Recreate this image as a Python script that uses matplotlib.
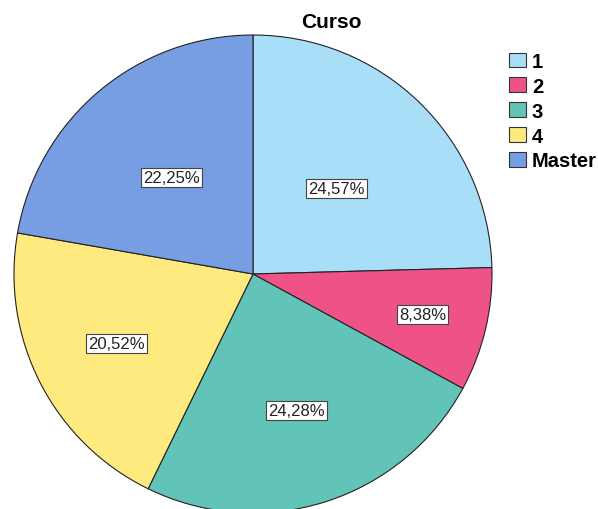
import matplotlib.pyplot as plt
import numpy as np
from matplotlib.patches import Patch

plt.rcParams['font.family'] = ['Liberation Sans', 'DejaVu Sans']

# data
categories = ['1', '2', '3', '4', 'Master']
percentages = [24.57, 8.38, 24.28, 20.52, 22.25]
colors = ['#A9DEF9', '#EF5286', '#62C4B8', '#FEEA7E', '#779DE3']
# radial position of each label (fraction of radius), as in the reference
label_r = [0.50, 0.73, 0.60, 0.64, 0.53]

fig = plt.figure(figsize=(5.98, 5.10), dpi=100)
ax = fig.add_axes([14 / 598, -4 / 510, 478 / 598, 478 / 510])

wedges, _ = ax.pie(percentages, colors=colors, startangle=90, counterclock=False,
                   radius=1.0,
                   wedgeprops=dict(edgecolor='#222222', linewidth=0.8))
for w in wedges:
    w.set_clip_on(False)

ax.set_xlim(-1, 1)
ax.set_ylim(-1, 1)
ax.set_aspect('equal')

# percentage labels
for w, p, r in zip(wedges, percentages, label_r):
    ang = np.deg2rad((w.theta1 + w.theta2) / 2)
    txt = f'{p:.2f}%'.replace('.', ',')
    ax.text(r * np.cos(ang), r * np.sin(ang), txt, ha='center', va='center',
            fontsize=12, color='#222222',
            bbox=dict(boxstyle='square,pad=0.12', facecolor='white',
                      edgecolor='#444444', linewidth=0.8))

fig.text(331 / 598, 1 - 22 / 510, 'Curso', ha='center', va='center',
         fontsize=15, fontweight='bold')

handles = [Patch(facecolor=c, edgecolor='#333333', linewidth=0.8) for c in colors]
leg = fig.legend(handles, categories, loc='upper left',
                 bbox_to_anchor=(509 / 598, 1 - 53 / 510), frameon=False,
                 prop=dict(size=14.5, weight='bold'), handlelength=0.85,
                 handleheight=0.75, handletextpad=0.28, labelspacing=0.29,
                 borderpad=0, borderaxespad=0)

fig.savefig('out.png', dpi=100)
